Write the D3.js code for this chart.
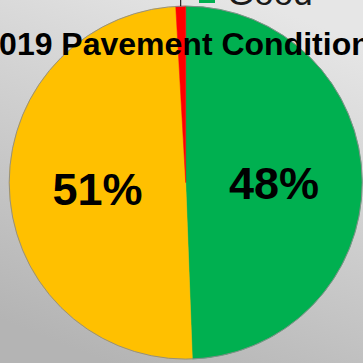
<!DOCTYPE html>
<html>
<head>
<meta charset="utf-8">
<script src="https://cdn.jsdelivr.net/npm/d3@7"></script>
<style>
  html, body { margin: 0; padding: 0; overflow: hidden; }
  svg { display: block; }
</style>
</head>
<body>
<svg id="chart" width="363" height="363"></svg>
<script>
// ---- data ----
const categories = ["Good", "Fair", "Poor"];
const shares = [49.4, 49.7, 0.9];          // slice sizes as drawn
const labels = ["48%", "51%", "1%"];        // printed data labels
const colors = ["#00B050", "#FFC000", "#FF0000"];
const title = "2019 Pavement Condition";

const W = 363, H = 363;
const cx = 185.7, cy = 182.6, R = 176.5;

const svg = d3.select("#chart");

// background gradient
const defs = svg.append("defs");
const grad = defs.append("linearGradient").attr("id", "bg")
  .attr("x1", "0.7").attr("y1", "0").attr("x2", "0.3").attr("y2", "1");
grad.append("stop").attr("offset", "0").attr("stop-color", "#e6e6e6");
grad.append("stop").attr("offset", "1").attr("stop-color", "#b4b4b4");
svg.append("rect").attr("width", W).attr("height", H).attr("fill", "url(#bg)");

const data = categories.map((c, i) => ({ cat: c, value: shares[i], label: labels[i], color: colors[i] }));

const pie = d3.pie().sort(null).value(d => d.value).startAngle(0).endAngle(2 * Math.PI);
const arcs = pie(data);
const arc = d3.arc().innerRadius(0).outerRadius(R);
const labelArc = d3.arc().innerRadius(R * 0.5).outerRadius(R * 0.5);

const g = svg.append("g").attr("transform", `translate(${cx},${cy})`);

g.selectAll("path.slice").data(arcs).enter().append("path")
  .attr("class", "slice")
  .attr("d", arc)
  .attr("fill", d => d.data.color)
  .attr("stroke", d => d.data.color)
  .attr("stroke-width", 0.5);

// outline of the pie
g.append("circle").attr("r", R).attr("fill", "none")
  .attr("stroke", "#8a8a8a").attr("stroke-width", 0.9);

// data labels inside the large slices
g.selectAll("text.lbl").data(arcs.filter(d => d.data.value > 5)).enter().append("text")
  .attr("class", "lbl")
  .attr("transform", d => `translate(${labelArc.centroid(d)})`)
  .attr("dy", "0.41em")
  .attr("text-anchor", "middle")
  .attr("font-family", "'Liberation Sans', Arial, sans-serif")
  .attr("font-weight", "bold")
  .attr("font-size", 45)
  .attr("fill", "#000")
  .text(d => d.data.label);

// small slice: leader line to an outside label (off-canvas above)
const small = arcs.filter(d => d.data.value <= 5);
small.forEach(d => {
  const a = (d.startAngle + d.endAngle) / 2;
  const p0 = [Math.sin(a) * R, -Math.cos(a) * R];
  g.append("line")
    .attr("x1", p0[0]).attr("y1", p0[1])
    .attr("x2", p0[0]).attr("y2", p0[1] - 20)
    .attr("stroke", "#000").attr("stroke-width", 1);
  g.append("text")
    .attr("x", p0[0]).attr("y", p0[1] - 24)
    .attr("text-anchor", "middle")
    .attr("font-family", "'Liberation Sans', Arial, sans-serif")
    .attr("font-weight", "bold").attr("font-size", 30)
    .text(d.data.label);
});

// title
svg.append("text")
  .attr("x", 176).attr("y", 55)
  .attr("text-anchor", "middle")
  .attr("font-family", "'Liberation Sans', Arial, sans-serif")
  .attr("font-weight", "bold")
  .attr("font-size", 32)
  .attr("fill", "#000")
  .text(title);

// legend (vertical, mostly above the visible area)
const legend = svg.append("g").attr("transform", "translate(199,3)");
const legItems = legend.selectAll("g").data(data).enter().append("g")
  .attr("transform", (d, i) => `translate(0,${-(i) * 44})`);
legItems.append("rect")
  .attr("x", 0).attr("y", -16).attr("width", 16).attr("height", 16)
  .attr("fill", d => d.color);
legItems.append("text")
  .attr("x", 28).attr("y", 2)
  .attr("font-family", "'Liberation Sans', Arial, sans-serif")
  .attr("font-size", 35)
  .attr("fill", "#1a1a1a")
  .text(d => d.cat);
</script>
</body>
</html>
